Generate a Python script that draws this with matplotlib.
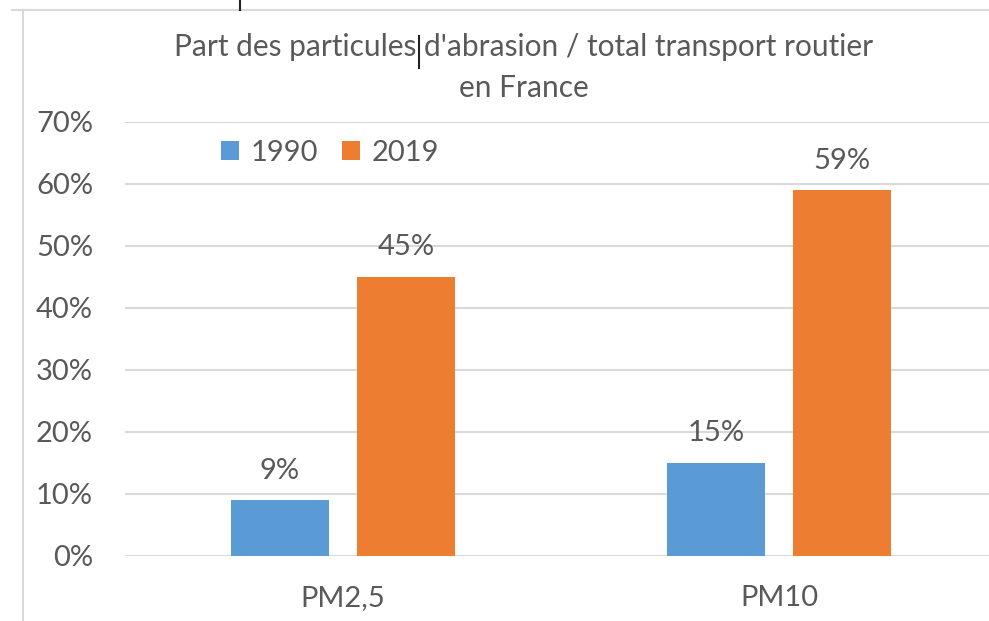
import matplotlib
matplotlib.use("Agg")
import matplotlib.pyplot as plt
from matplotlib.lines import Line2D
import numpy as np

categories = ["PM2,5", "PM10"]
series_names = ["1990", "2019"]
values_1990 = [0.09, 0.15]
values_2019 = [0.45, 0.59]
labels_1990 = ["9%", "15%"]
labels_2019 = ["45%", "59%"]
yticks = [0, 0.1, 0.2, 0.3, 0.4, 0.5, 0.6, 0.7]
ytick_labels = ["0%", "10%", "20%", "30%", "40%", "50%", "60%", "70%"]

BLUE = "#5B9BD5"
ORANGE = "#ED7D31"
TXT = "#595959"
GRID = "#D9D9D9"
FONT = "Lato"
FS = 21

W, H = 989, 621
fig = plt.figure(figsize=(W / 100, H / 100), dpi=100)
fig.patch.set_facecolor("white")

ax = fig.add_axes([125 / W, (H - 556) / H, (W - 125) / W, (556 - 122) / H])
x = np.arange(len(categories))
bw = 0.225
off = 0.1445
b1 = ax.bar(x - off, values_1990, bw, color=BLUE, label=series_names[0], zorder=3)
b2 = ax.bar(x + off, values_2019, bw, color=ORANGE, label=series_names[1], zorder=3)

for bars, labs in ((b1, labels_1990), (b2, labels_2019)):
    for r, lab in zip(bars, labs):
        ax.annotate(lab, (r.get_x() + r.get_width() / 2, r.get_height()),
                    xytext=(0, 12), textcoords="offset points", ha="center", va="bottom",
                    fontsize=FS, color=TXT, family=FONT)

ax.set_xlim(-0.5, (W - 125) / 436 - 0.5)
ax.set_ylim(0, 0.7)
ax.set_yticks(yticks)
ax.set_yticklabels(ytick_labels, family=FONT, fontsize=FS, color=TXT)
ax.set_xticks(x)
ax.set_xticklabels(categories, family=FONT, fontsize=FS, color=TXT)
ax.tick_params(axis="both", length=0)
ax.tick_params(axis="y", pad=23)
ax.tick_params(axis="x", pad=21)
ax.yaxis.grid(True, color=GRID, linewidth=1.5, zorder=0)
ax.set_axisbelow(True)
for s in ax.spines.values():
    s.set_visible(False)

leg = ax.legend(loc="center left", bbox_to_anchor=((221 - 125) / (W - 125), 1 - 31 / 434),
                ncol=2, frameon=False, handlelength=0.62, handleheight=0.62,
                handletextpad=0.4, columnspacing=0.8, borderaxespad=0, borderpad=0,
                prop={"family": FONT, "size": FS})
for t in leg.get_texts():
    t.set_color(TXT)

cx = 0.5 * (168 + 880) / W
fig.text(cx, 1 - 47 / H, "Part des particules d'abrasion / total transport routier",
         ha="center", va="center", fontsize=21.5, color=TXT, family=FONT)
fig.text(cx, 1 - 88 / H, "en France",
         ha="center", va="center", fontsize=21.5, color=TXT, family=FONT)

# chart frame fragments & artifacts
fig.add_artist(Line2D([23 / W, 23 / W], [0, 1 - 10 / H], color="#D9D9D9", lw=1.5))
fig.add_artist(Line2D([12 / W, 1], [1 - 10 / H, 1 - 10 / H], color="#D9D9D9", lw=1.5))
fig.add_artist(Line2D([240 / W, 240 / W], [1, 1 - 10 / H], color="#222222", lw=1.5))
fig.add_artist(Line2D([419 / W, 419 / W], [1 - 36 / H, 1 - 68 / H], color="#222222", lw=1.5))

fig.savefig("out.png", dpi=100, facecolor="white")
